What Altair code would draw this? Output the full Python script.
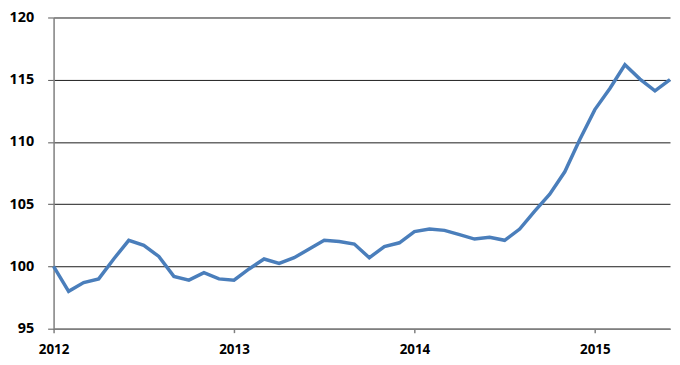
import altair as alt
import pandas as pd

# monthly index values, Jan 2012 .. Jun 2015
years = [2012] * 12 + [2013] * 12 + [2014] * 12 + [2015] * 6
months = list(range(1, 13)) * 3 + list(range(1, 7))
values = [
    100.0, 98.0, 98.7, 99.0, 100.6, 102.1, 101.7, 100.8, 99.2, 98.9, 99.5, 99.0,
    98.9, 99.8, 100.6, 100.25, 100.7, 101.4, 102.1, 102.0, 101.8, 100.7, 101.6, 101.9,
    102.8, 103.0, 102.9, 102.55, 102.2, 102.35, 102.1, 103.0, 104.45, 105.8, 107.6, 110.2,
    112.6, 114.3, 116.2, 115.05, 114.1, 115.0,
]
year_ticks = [2012, 2013, 2014, 2015]
y_ticks = [95, 100, 105, 110, 115, 120]

df = pd.DataFrame({
    "t": [y + (m - 1) / 12 for y, m in zip(years, months)],
    "v": values,
})

font = "Open Sans"

chart = alt.Chart(df).mark_line(color="#4A7EBB", strokeWidth=3.5).encode(
    x=alt.X(
        "t:Q",
        scale=alt.Scale(domain=[df["t"].min(), df["t"].max()], nice=False, zero=False),
        axis=alt.Axis(
            values=year_ticks, format="d", title=None, grid=False,
            tickSize=4, tickColor="#7f7f7f", tickWidth=1.5,
            domainColor="#7f7f7f", domainWidth=1.5,
            labelFont=font, labelFontSize=13.5, labelFontWeight="bold",
            labelColor="#000000", labelPadding=10, labelFlush=False,
        ),
    ),
    y=alt.Y(
        "v:Q",
        scale=alt.Scale(domain=[95, 120], nice=False, zero=False),
        axis=alt.Axis(
            values=y_ticks, title=None, grid=True,
            gridColor="#1a1a1a", gridWidth=1,
            tickSize=6, tickColor="#555555", tickWidth=1,
            domainColor="#7f7f7f", domainWidth=1.5,
            labelFont=font, labelFontSize=14.5, labelFontWeight="bold",
            labelColor="#000000", labelPadding=14,
        ),
    ),
).properties(
    width=622,
    height=314,
    autosize=alt.AutoSizeParams(type="none"),
    padding={"left": 46, "top": 8, "right": 2, "bottom": 27},
    background="#ffffff",
).configure_view(stroke=None)

chart.save("out.html", embed_options={"renderer": "svg", "actions": False})
